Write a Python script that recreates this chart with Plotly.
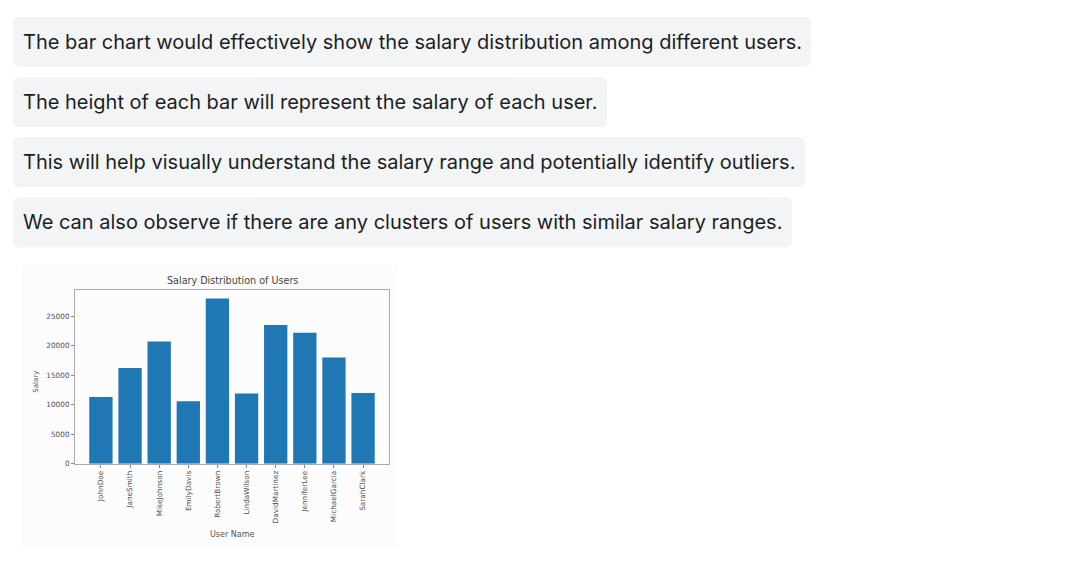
import plotly.graph_objects as go

W, H = 1092, 566
H_EFF = 560  # measured vertical scale of the captured page

users = ["JohnDoe", "JaneSmith", "MikeJohnson", "EmilyDavis", "RobertBrown",
         "LindaWilson", "DavidMartinez", "JenniferLee", "MichaelGarcia", "SarahClark"]
salaries = [11300, 16200, 20700, 10600, 28000, 11900, 23500, 22200, 18000, 12000]
y_ticks = [0, 5000, 10000, 15000, 20000, 25000]
y_tick_labels = ["0", "5000", "10000", "15000", "20000", "25000"]

messages = [
    "The bar chart would effectively show the salary distribution among different users.",
    "The height of each bar will represent the salary of each user.",
    "This will help visually understand the salary range and potentially identify outliers.",
    "We can also observe if there are any clusters of users with similar salary ranges.",
]
box_right = [811, 607, 805, 792]


def px_x(x):
    return x / W


def px_y(y):
    return 1 - y / H_EFF


def rounded_rect(x0, y0, x1, y1, r):
    def P(x, y):
        return f"{px_x(x):.5f},{px_y(y):.5f}"
    return (f"M {P(x0 + r, y0)} L {P(x1 - r, y0)} Q {P(x1, y0)} {P(x1, y0 + r)} "
            f"L {P(x1, y1 - r)} Q {P(x1, y1)} {P(x1 - r, y1)} "
            f"L {P(x0 + r, y1)} Q {P(x0, y1)} {P(x0, y1 - r)} "
            f"L {P(x0, y0 + r)} Q {P(x0, y0)} {P(x0 + r, y0)} Z")


shapes = []
annotations = []
for i, (msg, xr) in enumerate(zip(messages, box_right)):
    top = 17 + 60 * i
    bottom = top + 50
    shapes.append(dict(type="path", xref="paper", yref="paper",
                       path=rounded_rect(13, top, xr, bottom, 7),
                       fillcolor="#f3f4f6", line=dict(width=0), layer="below"))
    annotations.append(dict(text=msg, xref="paper", yref="paper",
                            x=px_x(21), y=px_y((top + bottom) / 2),
                            xanchor="left", yanchor="middle", showarrow=False,
                            font=dict(family="Inter", size=20, color="#1b1f24")))

# faint chart image background
shapes.append(dict(type="rect", xref="paper", yref="paper",
                   x0=px_x(22), x1=px_x(398), y0=px_y(548), y1=px_y(265),
                   fillcolor="#fcfcfc", line=dict(width=0), layer="below"))

plot_l, plot_r, plot_t, plot_b = 75, 389, 289, 463

fig = go.Figure(go.Bar(x=users, y=salaries, width=0.8,
                       marker=dict(color="#1f77b4", line=dict(width=0))))

tick_font = dict(family="DejaVu Sans", size=7.3, color="#505050")

fig.update_layout(
    width=W, height=H,
    margin=dict(l=0, r=0, t=0, b=0),
    paper_bgcolor="white", plot_bgcolor="white",
    showlegend=False,
    shapes=shapes,
    annotations=annotations + [
        dict(text="Salary Distribution of Users", xref="paper", yref="paper",
             x=px_x((plot_l + plot_r) / 2), y=px_y(280), xanchor="center", yanchor="middle",
             showarrow=False, font=dict(family="DejaVu Sans", size=9.6, color="#444444")),
        dict(text="User Name", xref="paper", yref="paper",
             x=px_x((plot_l + plot_r) / 2), y=px_y(534), xanchor="center", yanchor="middle",
             showarrow=False, font=dict(family="DejaVu Sans", size=8, color="#555555")),
        dict(text="Salary", xref="paper", yref="paper", textangle=-90,
             x=px_x(36), y=px_y(381), xanchor="center", yanchor="middle",
             showarrow=False, font=dict(family="DejaVu Sans", size=7, color="#555555")),
    ],
    xaxis=dict(domain=[px_x(plot_l), px_x(plot_r)], range=[-0.89, 9.89],
               tickangle=-90, tickfont=tick_font, ticks="outside", ticklen=3,
               tickcolor="#888888", showline=True, linecolor="#aaaaaa", mirror=True,
               showgrid=False, zeroline=False, fixedrange=True),
    yaxis=dict(domain=[px_y(plot_b), px_y(plot_t)], range=[0, 29500],
               tickvals=y_ticks, ticktext=y_tick_labels, tickfont=tick_font,
               ticks="outside", ticklen=3,
               tickcolor="#888888", showline=True, linecolor="#aaaaaa", mirror=True,
               showgrid=False, zeroline=False, fixedrange=True),
    bargap=0.2,
)

fig.write_html("out.html", config={"displayModeBar": False})
